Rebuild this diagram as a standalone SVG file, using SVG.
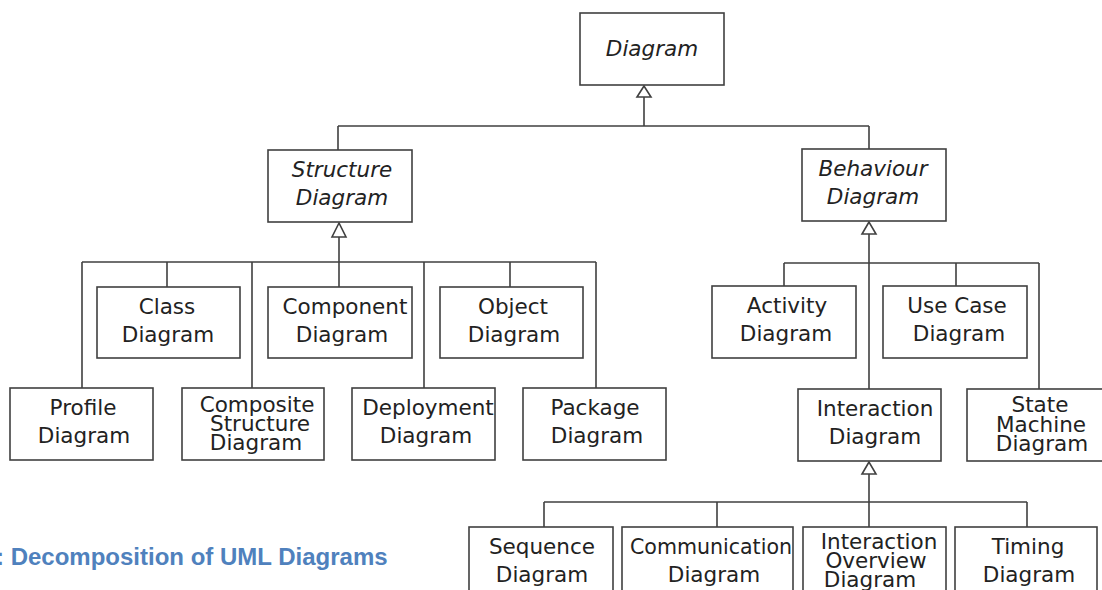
<svg xmlns="http://www.w3.org/2000/svg" width="1102" height="590" viewBox="0 0 1102 590">
<defs>
<style>
.box{fill:#fff;stroke:#404040;stroke-width:1.6}
.t{font-family:"DejaVu Sans",sans-serif;font-size:21.5px;fill:#222;text-anchor:middle}
.i{font-style:italic}
.ln{fill:none;stroke:#404040;stroke-width:1.6}
.tri{fill:#fff;stroke:#404040;stroke-width:1.6;stroke-linejoin:miter}
.cap{font-family:"Liberation Sans",Arial,sans-serif;font-size:24px;font-weight:bold;fill:#4F81BD}
</style>
</defs>
<rect width="1102" height="590" fill="#fff"/>
<g id="connectors">
<path class="ln" d="M644 97V126M338 126H869M338 126V150M869 126V149"/>
<path class="ln" d="M339 237V287M82 262H596M82 262V388M167 262V287M252 262V388M424 262V388M510 262V287M596 262V388"/>
<path class="ln" d="M869 234V389M784 263H1039M784 263V286M956 263V286M1039 263V389"/>
<path class="ln" d="M869 474V527M544 502H1027M544 502V527M717 502V527M1027 502V527"/>
<polygon class="tri" points="644,86 637,97 651,97"/>
<polygon class="tri" points="339,223 332,237 346,237"/>
<polygon class="tri" points="869,222 862,234 876,234"/>
<polygon class="tri" points="869,462 862,474 876,474"/>
</g>
<g id="diagram"><rect class="box" x="580" y="13" width="144" height="72"/><text class="t i" x="652" y="56">Diagram</text></g>
<g id="structure"><rect class="box" x="268" y="150" width="144" height="72"/><text class="t i" x="342" y="177">Structure</text><text class="t i" x="342" y="205">Diagram</text></g>
<g id="behaviour"><rect class="box" x="802" y="149" width="144" height="72"/><text class="t i" x="873" y="176">Behaviour</text><text class="t i" x="873" y="204">Diagram</text></g>
<g id="class"><rect class="box" x="97" y="287" width="143" height="71"/><text class="t" x="167" y="314">Class</text><text class="t" x="168" y="342">Diagram</text></g>
<g id="component"><rect class="box" x="268" y="287" width="144" height="71"/><text class="t" x="345" y="314">Component</text><text class="t" x="342" y="342">Diagram</text></g>
<g id="object"><rect class="box" x="440" y="287" width="143" height="71"/><text class="t" x="513" y="314">Object</text><text class="t" x="514" y="342">Diagram</text></g>
<g id="profile"><rect class="box" x="10" y="388" width="143" height="72"/><text class="t" x="83" y="415">Profile</text><text class="t" x="84" y="443">Diagram</text></g>
<g id="composite"><rect class="box" x="182" y="388" width="142" height="72"/><text class="t" x="257" y="412">Composite</text><text class="t" x="260" y="431">Structure</text><text class="t" x="256" y="450">Diagram</text></g>
<g id="deployment"><rect class="box" x="352" y="388" width="143" height="72"/><text class="t" x="428" y="415">Deployment</text><text class="t" x="426" y="443">Diagram</text></g>
<g id="package"><rect class="box" x="523" y="388" width="143" height="72"/><text class="t" x="595" y="415">Package</text><text class="t" x="597" y="443">Diagram</text></g>
<g id="activity"><rect class="box" x="712" y="286" width="144" height="72"/><text class="t" x="787" y="313">Activity</text><text class="t" x="786" y="341">Diagram</text></g>
<g id="usecase"><rect class="box" x="883" y="286" width="144" height="72"/><text class="t" x="957" y="313">Use Case</text><text class="t" x="959" y="341">Diagram</text></g>
<g id="interaction"><rect class="box" x="798" y="389" width="143" height="72"/><text class="t" x="875" y="416">Interaction</text><text class="t" x="875" y="444">Diagram</text></g>
<g id="statemachine"><rect class="box" x="967" y="389" width="144" height="72"/><text class="t" x="1040" y="412">State</text><text class="t" x="1041" y="432">Machine</text><text class="t" x="1042" y="451">Diagram</text></g>
<g id="sequence"><rect class="box" x="469" y="527" width="144" height="72"/><text class="t" x="542" y="554">Sequence</text><text class="t" x="542" y="582">Diagram</text></g>
<g id="communication"><rect class="box" x="622" y="527" width="171" height="72"/><text class="t" x="711" y="554" textLength="162" lengthAdjust="spacingAndGlyphs">Communication</text><text class="t" x="714" y="582">Diagram</text></g>
<g id="interactionoverview"><rect class="box" x="803" y="527" width="143" height="72"/><text class="t" x="879" y="549">Interaction</text><text class="t" x="876" y="568">Overview</text><text class="t" x="870" y="587">Diagram</text></g>
<g id="timing"><rect class="box" x="955" y="527" width="142" height="72"/><text class="t" x="1028" y="554">Timing</text><text class="t" x="1029" y="582">Diagram</text></g>
<text class="cap" x="-4" y="565">: Decomposition of UML Diagrams</text>
</svg>
